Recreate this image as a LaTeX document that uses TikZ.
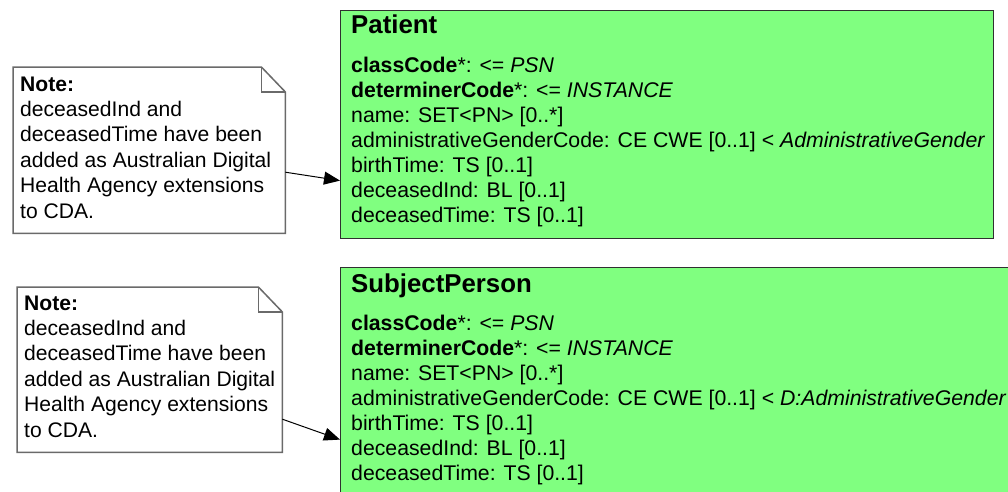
\documentclass[tikz,border=0pt]{standalone}
\usepackage{fontspec}
\setmainfont{Liberation Sans}
\usetikzlibrary{arrows.meta}
\definecolor{classgreen}{HTML}{80FF80}
\definecolor{notegray}{HTML}{6A6A6A}
\definecolor{boxborder}{HTML}{303030}
\begin{document}
\begin{tikzpicture}[x=1pt,y=-1pt,
  classbox/.style={draw=boxborder, line width=1.2pt, fill=classgreen, anchor=north west, inner sep=0pt},
  notearea/.style={anchor=north west, inner sep=0pt},
  noteline/.style={draw=notegray, line width=1.5pt, line join=miter},
  txt/.style={anchor=base west, inner sep=0pt, font=\fontsize{21.25}{25}\selectfont},
  notetxt/.style={anchor=base west, inner sep=0pt, font=\fontsize{21.1}{25.4}\selectfont},
  titletxt/.style={anchor=base west, inner sep=0pt, font=\fontsize{25.8}{30}\selectfont\bfseries},
  link/.style={draw=black, line width=1pt, -{Triangle[length=16pt,width=13pt]}}
]
\useasboundingbox (0,0) rectangle (1008,491);
\clip (0,0) rectangle (1008,491);
\fill[white] (0,0) rectangle (1008,491);

% class boxes
\node[classbox, minimum width=653pt, minimum height=227.5pt] (patient) at (340,10) {};
\node[classbox, minimum width=680pt, minimum height=240pt] (subject) at (340,267) {};

% notes
\node[notearea, minimum width=272pt, minimum height=166pt] (note1) at (13,67) {};
\draw[noteline] (note1.north west) -- ([xshift=-24pt]note1.north east) -- ([yshift=-25pt]note1.north east) -- (note1.south east) -- (note1.south west) -- cycle;
\draw[noteline] ([xshift=-24pt]note1.north east) -- ([xshift=-24pt,yshift=-25pt]note1.north east) -- ([yshift=-25pt]note1.north east);

\node[notearea, minimum width=265pt, minimum height=165pt] (note2) at (17,287) {};
\draw[noteline] (note2.north west) -- ([xshift=-24pt]note2.north east) -- ([yshift=-25pt]note2.north east) -- (note2.south east) -- (note2.south west) -- cycle;
\draw[noteline] ([xshift=-24pt]note2.north east) -- ([xshift=-24pt,yshift=-25pt]note2.north east) -- ([yshift=-25pt]note2.north east);

% note texts
\node[notetxt] (note1text) at (20,91) {\vtop{\hbox{\textbf{Note:}}\hbox{deceasedInd and}\hbox{deceasedTime have been}\hbox{added as Australian Digital}\hbox{Health Agency extensions}\hbox{to CDA.}}};
\node[notetxt] (note2text) at (24,310) {\vtop{\hbox{\textbf{Note:}}\hbox{deceasedInd and}\hbox{deceasedTime have been}\hbox{added as Australian Digital}\hbox{Health Agency extensions}\hbox{to CDA.}}};

% class texts
\node[titletxt] (patienttitle) at (351,33) {Patient};
\node[txt] (patientattrs) at (351,72) {\vtop{%
\hbox{\textbf{classCode}*: <= \textit{PSN}}%
\hbox{\textbf{determinerCode}*: <= \textit{INSTANCE}}%
\hbox{name: SET<PN> [0..*]}%
\hbox{administrativeGenderCode: CE CWE [0..1] < \textit{AdministrativeGender}}%
\hbox{birthTime: TS [0..1]}%
\hbox{deceasedInd: BL [0..1]}%
\hbox{deceasedTime: TS [0..1]}}};

\node[titletxt] (subjecttitle) at (351,292) {SubjectPerson};
\node[txt] (subjectattrs) at (351,330) {\vtop{%
\hbox{\textbf{classCode}*: <= \textit{PSN}}%
\hbox{\textbf{determinerCode}*: <= \textit{INSTANCE}}%
\hbox{name: SET<PN> [0..*]}%
\hbox{administrativeGenderCode: CE CWE [0..1] < \textit{D:AdministrativeGender}}%
\hbox{birthTime: TS [0..1]}%
\hbox{deceasedInd: BL [0..1]}%
\hbox{deceasedTime: TS [0..1]}}};

% connectors
\draw[link] ([yshift=-22pt]note1.east) -- ([yshift=-56.25pt]patient.west);
\draw[link] ([yshift=-49.5pt]note2.east) -- ([yshift=-52pt]subject.west);
\end{tikzpicture}
\end{document}
